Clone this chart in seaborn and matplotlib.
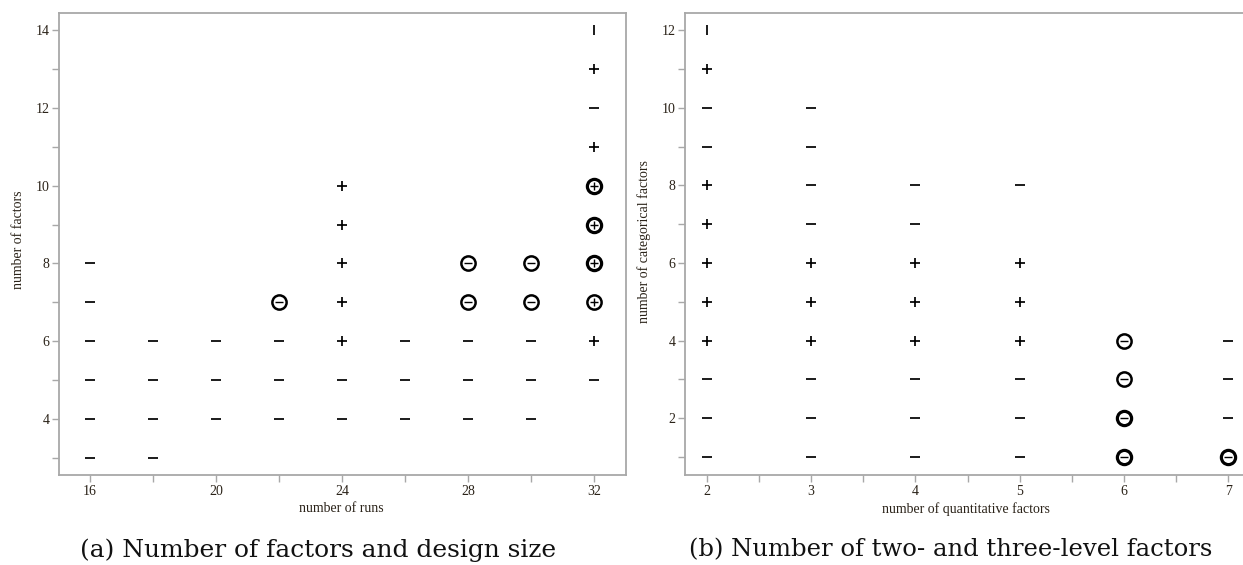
import matplotlib
matplotlib.use("Agg")
import matplotlib.pyplot as plt
import seaborn as sns
import pandas as pd
from matplotlib.ticker import MultipleLocator

# ---------------- data ----------------
# panel (a): number of runs vs number of factors
runs_a = [16, 16, 16, 16, 16, 16,
          18, 18, 18, 18,
          20, 20, 20,
          22, 22, 22, 22,
          24, 24, 24, 24, 24, 24, 24,
          26, 26, 26,
          28, 28, 28, 28, 28,
          30, 30, 30, 30, 30,
          32, 32, 32, 32, 32, 32, 32, 32, 32, 32]
factors_a = [3, 4, 5, 6, 7, 8,
             3, 4, 5, 6,
             4, 5, 6,
             4, 5, 6, 7,
             4, 5, 6, 7, 8, 9, 10,
             4, 5, 6,
             4, 5, 6, 7, 8,
             4, 5, 6, 7, 8,
             5, 6, 7, 8, 9, 10, 11, 12, 13, 14]
symbol_a = ["-", "-", "-", "-", "-", "-",
            "-", "-", "-", "-",
            "-", "-", "-",
            "-", "-", "-", "o-",
            "-", "-", "+", "+", "+", "+", "+",
            "-", "-", "-",
            "-", "-", "-", "o-", "o-",
            "-", "-", "-", "o-", "o-",
            "-", "+", "o+", "o+", "o+", "o+", "+", "-", "+", "|"]
bold_a = [0] * 39 + [0, 1, 1, 1, 0, 0, 0, 0]
bold_a = bold_a[:len(runs_a)]

# panel (b): number of quantitative vs categorical factors
quant_b = [2] * 12 + [3] * 10 + [4] * 8 + [5] * 7 + [6] * 4 + [7] * 4
categ_b = ([1, 2, 3, 4, 5, 6, 7, 8, 9, 10, 11, 12] +
           [1, 2, 3, 4, 5, 6, 7, 8, 9, 10] +
           [1, 2, 3, 4, 5, 6, 7, 8] +
           [1, 2, 3, 4, 5, 6, 8] +
           [1, 2, 3, 4] +
           [1, 2, 3, 4])
symbol_b = (["-", "-", "-", "+", "+", "+", "+", "+", "-", "-", "+", "|"] +
            ["-", "-", "-", "+", "+", "+", "-", "-", "-", "-"] +
            ["-", "-", "-", "+", "+", "+", "-", "-"] +
            ["-", "-", "-", "+", "+", "+", "-"] +
            ["o-", "o-", "o-", "o-"] +
            ["o-", "-", "-", "-"])
bold_b = [0] * 37 + [1, 1, 0, 0] + [1, 0, 0, 0]

xlabel_a = "number of runs"
ylabel_a = "number of factors"
xlabel_b = "number of quantitative factors"
ylabel_b = "number of categorical factors"
caption_a = "(a) Number of factors and design size"
caption_b = "(b) Number of two- and three-level factors"

# ---------------- style ----------------
sns.set_theme(style="white")
plt.rcParams["font.family"] = ["Liberation Serif", "DejaVu Serif"]

W, H = 1243, 565
fig = plt.figure(figsize=(W / 100, H / 100), dpi=100)

SPINE = "#a8a8a8"
TXT = "#2a2218"
AX_BOTTOM, AX_TOP = 475, 13
AX_H = AX_BOTTOM - AX_TOP


def draw_panel(ax, x, y, sym, bold):
    df = pd.DataFrame({"x": x, "y": y, "s": sym, "b": bold})
    line_kw = dict(color="black", s=62, linewidth=1.25, zorder=3, legend=False)
    for code, mk in (("-", "_"), ("+", "+"), ("|", "|")):
        d = df[df.s == code]
        if len(d):
            sns.scatterplot(data=d, x="x", y="y", marker=mk, ax=ax, **line_kw)
    for code, inner in (("o-", "_"), ("o+", "+")):
        for b in (0, 1):
            d = df[(df.s == code) & (df.b == b)]
            if not len(d):
                continue
            sns.scatterplot(data=d, x="x", y="y", marker="o", color="white",
                            edgecolor="black", linewidth=2.3 if b else 1.8,
                            s=105, ax=ax, zorder=4, legend=False)
            sns.scatterplot(data=d, x="x", y="y", marker=inner, color="black",
                            linewidth=1.0, s=40, ax=ax, zorder=5, legend=False)


def style_axes(ax, spines):
    for side, sp in ax.spines.items():
        sp.set_visible(side in spines)
        sp.set_color(SPINE)
        sp.set_linewidth(1.3)
    ax.tick_params(which="both", direction="out", length=5, width=1.0,
                   color=SPINE, labelcolor=TXT, labelsize=10, pad=2,
                   bottom=True, left=True)
    ax.grid(False)


# panel (a)
a_left, a_right = 59, 626
axA = fig.add_axes([a_left / W, (H - AX_BOTTOM) / H, (a_right - a_left) / W, AX_H / H])
draw_panel(axA, runs_a, factors_a, symbol_a, bold_a)
axA.set_xlim(15.02, 33.0)
axA.set_ylim(2.56, 14.44)
axA.xaxis.set_major_locator(MultipleLocator(4))
axA.xaxis.set_minor_locator(MultipleLocator(2))
axA.yaxis.set_major_locator(MultipleLocator(2))
axA.yaxis.set_minor_locator(MultipleLocator(1))
style_axes(axA, ["left", "bottom", "top", "right"])
axA.set_xlabel(xlabel_a, fontsize=10, color=TXT)
axA.set_ylabel(ylabel_a, fontsize=10, color=TXT)
axA.xaxis.set_label_coords((341 - a_left) / (a_right - a_left), -27 / AX_H)
axA.yaxis.set_label_coords(-(a_left - 25) / (a_right - a_left), 0.509)

# panel (b)
b_left, b_right = 685, 1250
axB = fig.add_axes([b_left / W, (H - AX_BOTTOM) / H, (b_right - b_left) / W, AX_H / H])
draw_panel(axB, quant_b, categ_b, symbol_b, bold_b)
axB.set_xlim(1.79, 7.21)
axB.set_ylim(0.54, 12.44)
axB.xaxis.set_major_locator(MultipleLocator(1))
axB.xaxis.set_minor_locator(MultipleLocator(0.5))
axB.yaxis.set_major_locator(MultipleLocator(2))
axB.yaxis.set_minor_locator(MultipleLocator(1))
style_axes(axB, ["left", "bottom", "top", "right"])
axB.set_xlabel(xlabel_b, fontsize=10, color=TXT)
axB.set_ylabel(ylabel_b, fontsize=10, color=TXT)
axB.xaxis.set_label_coords((966 - b_left) / (b_right - b_left), -27 / AX_H)
axB.yaxis.set_label_coords(-(b_left - 651) / (b_right - b_left), 0.505)

# captions
capA = fig.text(318 / W, 1 - 550 / H, caption_a, ha="center", va="center",
                fontsize=18, family=["DejaVu Serif"], color="#111111")
capB = fig.text(951 / W, 1 - 550 / H, caption_b, ha="center", va="center",
                fontsize=18, family=["DejaVu Serif"], color="#111111")
fig.canvas.draw()
r = fig.canvas.get_renderer()
for cap, target in ((capA, 477), (capB, 522)):
    w = cap.get_window_extent(r).width
    cap.set_fontsize(18 * target / w)

fig.savefig("out.png", dpi=100)
